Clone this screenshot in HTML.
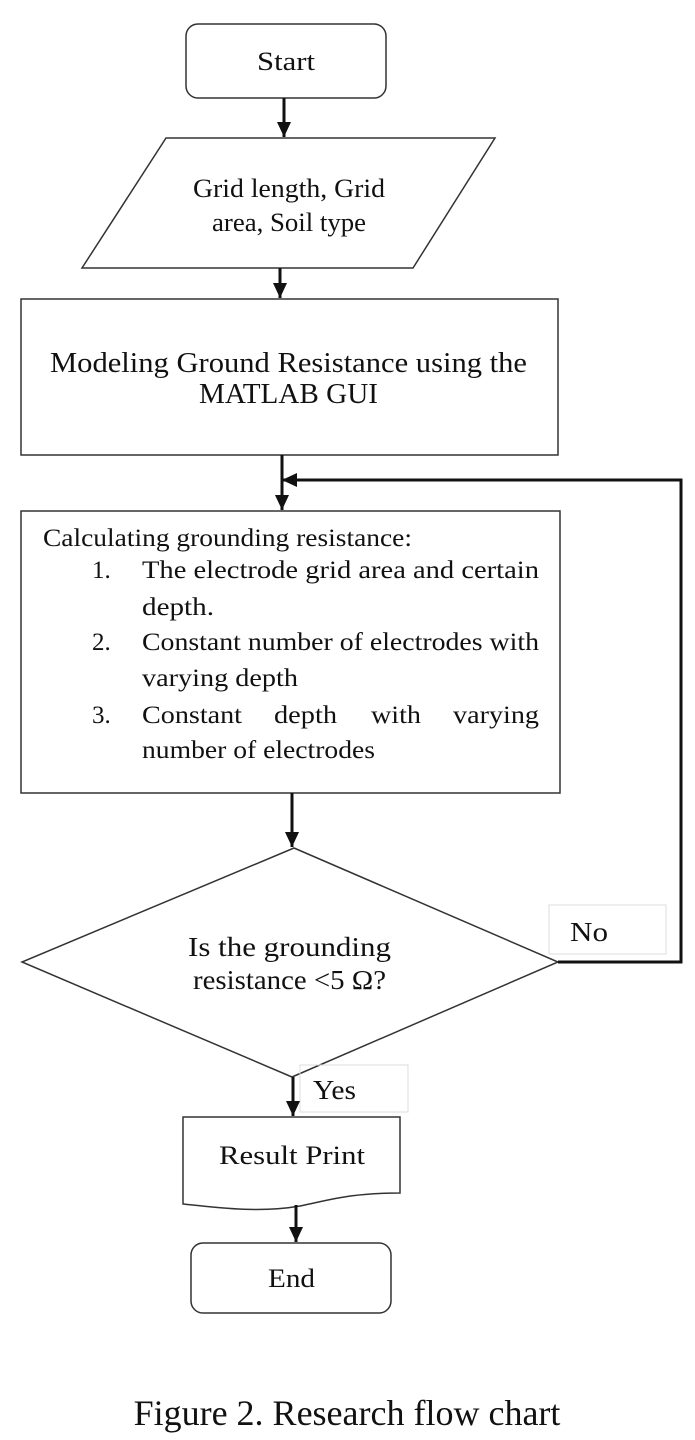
<!DOCTYPE html>
<html><head><meta charset="utf-8"><style>
html,body{margin:0;padding:0;background:#fff;}
svg{display:block;}
text{font-family:"Liberation Serif",serif;fill:#111;}
</style></head><body>
<svg width="695" height="1440" viewBox="0 0 695 1440" xmlns="http://www.w3.org/2000/svg">
<defs>
<marker id="b" markerWidth="16" markerHeight="16" refX="15" refY="7" orient="auto" markerUnits="userSpaceOnUse">
<path d="M0,0 L15,7 L0,14 z" fill="#111"/></marker>
</defs>
<g stroke="#333" stroke-width="1.5" fill="#fff">
<rect x="186" y="24" width="200" height="74" rx="12"/>
<polygon points="166,138 495,138 413,268 82,268"/>
<rect x="21" y="299" width="537" height="156"/>
<rect x="21" y="511" width="539" height="282"/>
<polygon points="294,848 558,962 292,1077 22,962"/>
<path d="M183,1117 L400,1117 L400,1193 C350,1193 330,1200 300,1206 C260,1213 220,1208 183,1204 Z"/>
<rect x="191" y="1243" width="200" height="70" rx="12"/>
</g>
<g stroke="#ddd" stroke-width="1" fill="none">
<rect x="549" y="905" width="117" height="49"/>
<rect x="300" y="1065" width="108" height="47"/>
</g>
<g stroke="#111" stroke-width="3" fill="none">
<line x1="284" y1="98" x2="284" y2="137" marker-end="url(#b)"/>
<line x1="280" y1="268" x2="280" y2="298" marker-end="url(#b)"/>
<line x1="282" y1="455" x2="282" y2="510" marker-end="url(#b)"/>
<polyline points="558,962 681,962 681,480 282,480" marker-end="url(#b)"/>
<line x1="292" y1="793" x2="292" y2="847" marker-end="url(#b)"/>
<line x1="293" y1="1077" x2="293" y2="1116" marker-end="url(#b)"/>
<line x1="296" y1="1205" x2="296" y2="1242" marker-end="url(#b)"/>
</g>
<g font-size="26">
<text x="257" y="70" textLength="58" lengthAdjust="spacingAndGlyphs">Start</text>
<text x="193" y="197" textLength="192" lengthAdjust="spacingAndGlyphs">Grid length, Grid</text>
<text x="212" y="231" textLength="154" lengthAdjust="spacingAndGlyphs">area, Soil type</text>
<text x="219" y="1164" textLength="146" lengthAdjust="spacingAndGlyphs">Result Print</text>
<text x="268" y="1287" textLength="47" lengthAdjust="spacingAndGlyphs">End</text>
</g>
<g font-size="29">
<text x="50" y="372" textLength="477" lengthAdjust="spacingAndGlyphs">Modeling Ground Resistance using the</text>
<text x="199" y="403" textLength="179" lengthAdjust="spacingAndGlyphs">MATLAB GUI</text>
</g>
<g font-size="27">
<text x="188" y="956" textLength="203" lengthAdjust="spacingAndGlyphs">Is the grounding</text>
<text x="193" y="989" textLength="193" lengthAdjust="spacingAndGlyphs">resistance &lt;5 Ω?</text>
<text x="570" y="941" textLength="38" lengthAdjust="spacingAndGlyphs">No</text>
<text x="313" y="1099" textLength="43" lengthAdjust="spacingAndGlyphs">Yes</text>
</g>
<g font-size="25">
<text x="43" y="546" textLength="369" lengthAdjust="spacingAndGlyphs">Calculating grounding resistance:</text>
<text x="92" y="578">1.</text>
<text x="142" y="578" textLength="397" lengthAdjust="spacingAndGlyphs">The electrode grid area and certain</text>
<text x="142" y="615" textLength="72" lengthAdjust="spacingAndGlyphs">depth.</text>
<text x="92" y="650">2.</text>
<text x="142" y="650" textLength="397" lengthAdjust="spacingAndGlyphs">Constant number of electrodes with</text>
<text x="142" y="686" textLength="156" lengthAdjust="spacingAndGlyphs">varying depth</text>
<text x="92" y="723">3.</text>
<text x="142" y="723" textLength="100" lengthAdjust="spacingAndGlyphs">Constant</text>
<text x="274" y="723" textLength="63" lengthAdjust="spacingAndGlyphs">depth</text>
<text x="371" y="723" textLength="50" lengthAdjust="spacingAndGlyphs">with</text>
<text x="453" y="723" textLength="86" lengthAdjust="spacingAndGlyphs">varying</text>
<text x="142" y="758" textLength="233" lengthAdjust="spacingAndGlyphs">number of electrodes</text>
</g>
<text x="347" y="1425" font-size="36" text-anchor="middle">Figure 2. Research flow chart</text>
</svg>
</body></html>
